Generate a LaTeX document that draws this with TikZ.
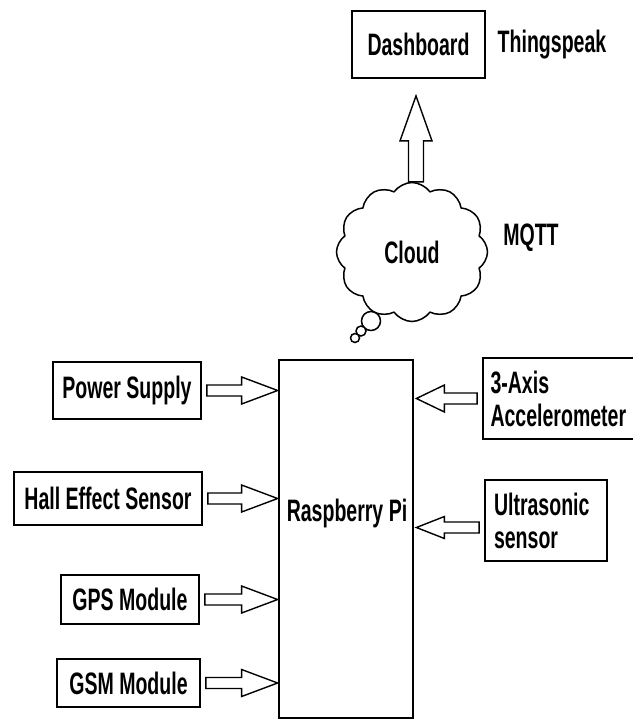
\documentclass[tikz,border=0pt]{standalone}
\usepackage{fontspec}
\setmainfont{Liberation Sans}[FakeStretch=0.63]
\usetikzlibrary{shapes.symbols,calc}
% #1 head length, #2 head half width, #3 shaft half width, #4 start, #5 end
\newcommand\fatarrow[5]{%
  \coordinate (fa-s) at (#4);
  \coordinate (fa-e) at (#5);
  \coordinate (fa-h) at ($(fa-e)!#1!(fa-s)$);
  \draw[fatline] ($(fa-s)!#3!90:(fa-e)$) -- ($(fa-h)!#3!90:(fa-e)$) -- ($(fa-h)!#2!90:(fa-e)$)
    -- (fa-e) -- ($(fa-h)!#2!-90:(fa-e)$) -- ($(fa-h)!#3!-90:(fa-e)$) -- ($(fa-s)!#3!-90:(fa-e)$) -- cycle;}
\begin{document}
\begin{tikzpicture}[x=1pt,y=-1pt,
  lbl/.style={font=\bfseries\fontsize{31}{33}\selectfont, inner sep=0pt},
  box/.style={draw, line width=1.8pt, lbl},
  fatline/.style={draw, line width=1.4pt, line join=miter, fill=white}]
\useasboundingbox (0,0) rectangle (632,720);

% top
\node[box, minimum width=133pt, minimum height=67pt] (dash) at (418.5,44.5) {Dashboard};
\node[lbl] (thing) at (552,45) {Thingspeak};

% cloud
\node[cloud, draw, line width=1.5pt, cloud puffs=12, cloud puff arc=110, aspect=1.1,
      minimum width=151pt, minimum height=139pt, lbl] (cloud) at (412,252) {Cloud};
\node[lbl] (mqtt) at (531,238) {MQTT};
\draw[line width=1.5pt, fill=white] (371,321) circle (9.5pt);
\draw[line width=1.5pt, fill=white] (361,331) circle (5pt);
\draw[line width=1.5pt, fill=white] (355,338) circle (4.5pt);

% Raspberry Pi
\node[draw, line width=2.8pt, minimum width=134pt, minimum height=358pt] (pi) at (346,539) {};
\node[lbl] (pitxt) at (347,513) {Raspberry Pi};

% left inputs
\node[box, minimum width=148pt, minimum height=57pt] (ps) at (127,390.5) {Power Supply};
\node[box, minimum width=188pt, minimum height=53pt] (hall) at (108,498.5) {Hall Effect Sensor};
\node[box, minimum width=138pt, minimum height=49pt] (gps) at (130,599.5) {GPS Module};
\node[box, minimum width=143pt, minimum height=48pt] (gsm) at (128.5,683) {GSM Module};

% right inputs
\node[box, minimum width=153pt, minimum height=81pt, align=left, text width=138pt] (acc) at (559.5,398.5) {3-Axis\\Accelerometer};
\node[box, minimum width=122pt, minimum height=81pt, align=left, text width=104pt] (us) at (546,520.5) {Ultrasonic\\sensor};

% arrows
\fatarrow{36pt}{13.5pt}{5.5pt}{$(ps.east)+(5pt,0)$}{ps.east -| pi.west}
\fatarrow{36pt}{13.5pt}{5.5pt}{$(hall.east)+(5pt,0)$}{hall.east -| pi.west}
\fatarrow{36pt}{13.5pt}{5.5pt}{$(gps.east)+(5pt,0)$}{gps.east -| pi.west}
\fatarrow{36pt}{13.5pt}{5.5pt}{$(gsm.east)+(5pt,0)$}{gsm.east -| pi.west}
\fatarrow{28pt}{13.5pt}{5.5pt}{$(acc.west)+(-5pt,0)$}{$(acc.west -| pi.east)+(2pt,0)$}
\fatarrow{28pt}{11pt}{5.5pt}{$(us.west)+(-5pt,-7pt)$}{$(us.west -| pi.east)+(2pt,-7pt)$}
\fatarrow{45pt}{16pt}{7.5pt}{$(dash.south)+(-2.5pt,-103pt)$}{$(dash.south)+(-2.5pt,-17pt)$}
\end{tikzpicture}
\end{document}
